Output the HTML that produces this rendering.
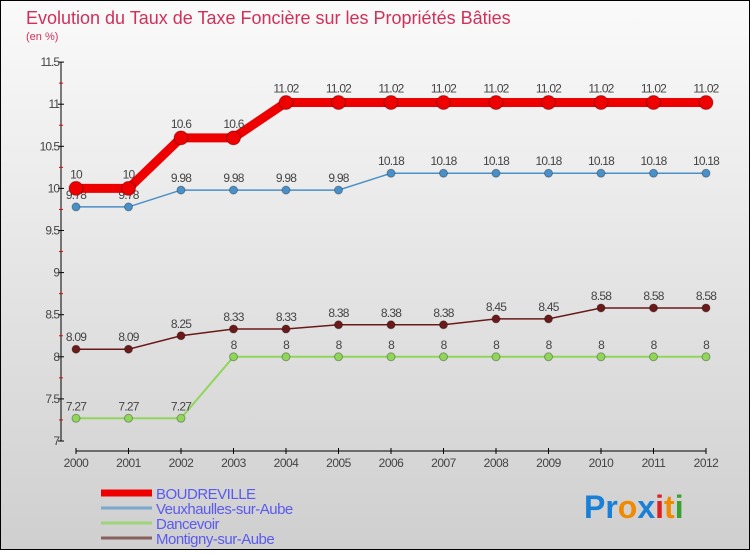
<!DOCTYPE html>
<html><head><meta charset="utf-8"><style>
body{margin:0}
#c{width:748px;height:548px;border:1px solid #000;background:linear-gradient(#fafafa,#cfcfcf);position:relative;font-family:"Liberation Sans",sans-serif}
</style></head><body>
<div id="c">
<svg id="s" width="748" height="548">
<text x="25" y="23" font-size="18" fill="#d0305a">Evolution du Taux de Taxe Foncière sur les Propriétés Bâties</text>
<text x="25" y="39" font-size="11" fill="#d0305a">(en %)</text>
<g id="g"></g>
<text x="583" y="517" font-size="32" font-weight="bold"><tspan fill="#1a7fd6">Pr</tspan><tspan fill="#f08a00">o</tspan><tspan fill="#1a7fd6">x</tspan><tspan fill="#e02020">i</tspan><tspan fill="#f08a00">t</tspan><tspan fill="#3aa030">i</tspan></text>
</svg></div>
<script>
const years=[2000,2001,2002,2003,2004,2005,2006,2007,2008,2009,2010,2011,2012];
const boudreville=[10,10,10.6,10.6,11.02,11.02,11.02,11.02,11.02,11.02,11.02,11.02,11.02];
const veux=[9.78,9.78,9.98,9.98,9.98,9.98,10.18,10.18,10.18,10.18,10.18,10.18,10.18];
const dance=[7.27,7.27,7.27,8,8,8,8,8,8,8,8,8,8];
const montigny=[8.09,8.09,8.25,8.33,8.33,8.38,8.38,8.38,8.45,8.45,8.58,8.58,8.58];
const yTicks=[7,7.5,8,8.5,9,9.5,10,10.5,11,11.5];
const names=["BOUDREVILLE","Veuxhaulles-sur-Aube","Dancevoir","Montigny-sur-Aube"];
const NS="http://www.w3.org/2000/svg",g=document.getElementById('g');
const X=i=>75+i*52.5, Y=v=>440-(v-7)*84.2;
function mk(t,a,p){const e=document.createElementNS(NS,t);for(const k in a)e.setAttribute(k,a[k]);(p||g).appendChild(e);return e;}
let e;
e=mk('line',{x1:60,y1:61,x2:60,y2:440,stroke:'#000'});


e=mk('line',{x1:75,y1:450,x2:705,y2:450,stroke:'#000'});


yTicks.forEach((v,i)=>{
 mk('line',{x1:57,y1:Y(v),x2:63,y2:Y(v),stroke:'#000'});
 if(i<yTicks.length-1)mk('line',{x1:58,y1:Y(v+0.25),x2:62,y2:Y(v+0.25),stroke:'#e00'});
 e=mk('text',{x:58,y:Y(v)+4,'font-size':12,'text-anchor':'end',fill:'#444','letter-spacing':'-1'});e.textContent=v;
 
 
});
years.forEach((y,i)=>{
 mk('line',{x1:X(i),y1:447,x2:X(i),y2:453,stroke:'#000'});
 e=mk('text',{x:X(i),y:466,'font-size':12,'text-anchor':'middle',fill:'#444','letter-spacing':'-0.5'});e.textContent=y;
 
 
});
function series(d,col,w,r,name,labDy){
 const p=mk('polyline',{points:d.map((v,i)=>X(i)+','+Y(v)).join(' '),fill:'none',stroke:col,'stroke-width':w});
 
 
 d.forEach((v,i)=>{
  const c=mk('circle',{cx:X(i),cy:Y(v),r:r,fill:col,stroke:'rgba(0,0,0,0.3)'});
  
  
  const t=mk('text',{x:X(i),y:Y(v)+labDy,'font-size':12,'text-anchor':'middle',fill:'#444','letter-spacing':'-0.8'});t.textContent=v;
  
  
 });
}
series(dance,'#8fd65a',2,4,'dancevoir',-8);
series(montigny,'#6b1a1a',1.5,4,'montigny',-8);
series(veux,'#4a90c8',1.5,4,'veuxhaulles',-8);
series(boudreville,'#ee0000',9,7,'boudreville',-10);
const lc=['#ee0000','#7ba8cc','#9ed47a','#8a5f5f'],lw=[7,3,3,3];
names.forEach((n,i)=>{
 const y=492+i*15;
 e=mk('line',{x1:100,y1:y,x2:151,y2:y,stroke:lc[i],'stroke-width':lw[i]});
 
 
 e=mk('text',{x:155,y:y+6,'font-size':15,fill:'#5a5af0','letter-spacing':'-0.5'});e.textContent=n;
 
 
});
</script>
</body></html>
